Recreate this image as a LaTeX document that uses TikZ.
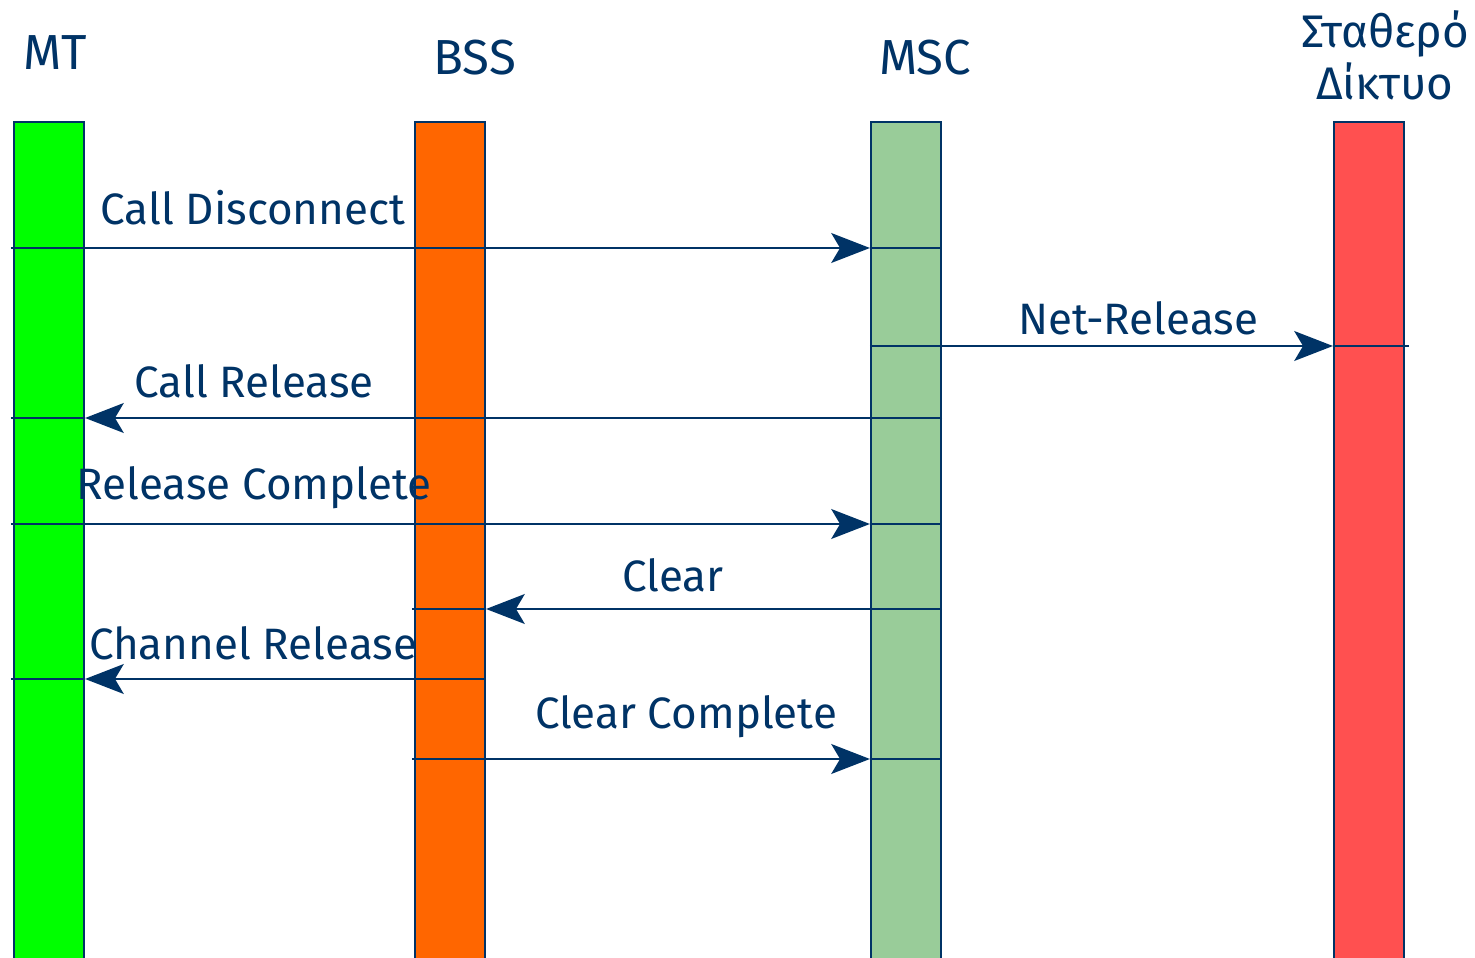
\documentclass[tikz,border=0pt]{standalone}
\usepackage{fontspec}
\setmainfont{Fira Sans}
\usetikzlibrary{arrows.meta}

\definecolor{navy}{HTML}{003366}
\definecolor{mtgreen}{HTML}{00FF00}
\definecolor{bssorange}{HTML}{FF6600}
\definecolor{mscgreen}{HTML}{99CC99}
\definecolor{netred}{HTML}{FF5050}

\begin{document}
\begin{tikzpicture}[x=0.01cm, y=-0.01cm, line width=0.6pt,
    bar/.style={rectangle, draw=navy, minimum width=0.7cm, minimum height=8.6cm, inner sep=0pt},
    head/.style={text=navy, font=\fontsize{14}{15.5}\selectfont, align=center},
    lbl/.style={text=navy, font=\fontsize{12.5}{15}\selectfont},
    msg/.style={draw=navy, -{Stealth[length=11pt, width=8.5pt, inset=2.5pt]}},
    tick/.style={draw=navy}]

    \clip (0,0) rectangle (1475,958);

    % the four entities
    \node[bar, fill=mtgreen] (mt) [anchor=north] at (49,121) {};
    \node[bar, fill=bssorange] (bss) [anchor=north] at (450,121) {};
    \node[bar, fill=mscgreen] (msc) [anchor=north] at (906,121) {};
    \node[bar, fill=netred] (net) [anchor=north] at (1369,121) {};

    \node[head] (hmt) at (55,53) {MT};
    \node[head] (hbss) at (475,58) {BSS};
    \node[head] (hmsc) at (925,58) {MSC};
    \node[head, font=\fontsize{13}{14.8}\selectfont] (hnet) at (1385,55) {Σταθερό\\Δίκτυο};

    % message labels
    \node[lbl] (l1) at (253,208) {Call Disconnect};
    \node[lbl] (l2) at (1138,318) {Net-Release};
    \node[lbl] (l3) at (254,381) {Call Release};
    \node[lbl] (l4) at (254,488) {Release Complete};
    \node[lbl] (l5) at (673,575) {Clear};
    \node[lbl] (l6) at (253,643) {Channel Release};
    \node[lbl] (l7) at (686,717) {Clear Complete};

    \path
        ([xshift=-0.6pt]mt.west |- 0,248) edge[msg] (msc.west |- 0,248)
        (msc.east |- 0,346) edge[msg] (net.west |- 0,346)
        (msc.east |- 0,418) edge[msg] (mt.east |- 0,418)
        ([xshift=-0.6pt]mt.west |- 0,524) edge[msg] (msc.west |- 0,524)
        (msc.east |- 0,609) edge[msg] (bss.east |- 0,609)
        (bss.east |- 0,679) edge[msg] (mt.east |- 0,679)
        ([xshift=-0.6pt]bss.west |- 0,759) edge[msg] (msc.west |- 0,759);

    \path
        (msc.west |- 0,248) edge[tick] (msc.east |- 0,248)
        (msc.west |- 0,346) edge[tick] (msc.east |- 0,346)
        (net.west |- 0,346) edge[tick] ([xshift=1.2pt]net.east |- 0,346)
        ([xshift=-0.6pt]mt.west |- 0,418) edge[tick] (mt.east |- 0,418)
        (msc.west |- 0,524) edge[tick] (msc.east |- 0,524)
        ([xshift=-0.6pt]bss.west |- 0,609) edge[tick] (bss.east |- 0,609)
        ([xshift=-0.6pt]mt.west |- 0,679) edge[tick] (mt.east |- 0,679)
        (msc.west |- 0,759) edge[tick] (msc.east |- 0,759);
\end{tikzpicture}
\end{document}
